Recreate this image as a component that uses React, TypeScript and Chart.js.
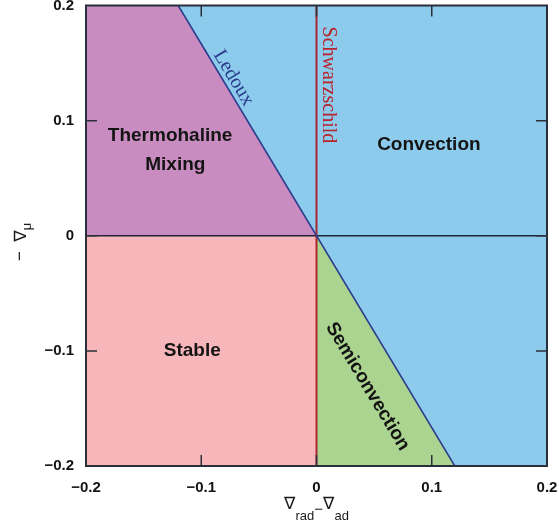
import React, { useEffect, useRef } from "react";
import { Chart, registerables } from "chart.js";

Chart.register(...registerables);

// Axis ticks
const xTickValues = [-0.2, -0.1, 0, 0.1, 0.2];
const xTickLabels = ["−0.2", "−0.1", "0", "0.1", "0.2"];
const yTickValues = [-0.2, -0.1, 0, 0.1, 0.2];
const yTickLabels = ["−0.2", "−0.1", "0", "0.1", "0.2"];

// Stability criteria (boundary lines)
const ledouxLine = [
  { x: -0.12, y: 0.2 },
  { x: 0.12, y: -0.2 },
];
const schwarzschildLine = [
  { x: 0, y: -0.2 },
  { x: 0, y: 0.2 },
];
const zeroLine = [
  { x: -0.2, y: 0 },
  { x: 0.2, y: 0 },
];

// Mixing regimes (closed polygons)
const convectionRegion = [
  { x: -0.12, y: 0.2 },
  { x: 0.2, y: 0.2 },
  { x: 0.2, y: -0.2 },
  { x: 0.12, y: -0.2 },
  { x: -0.12, y: 0.2 },
];
const thermohalineRegion = [
  { x: -0.2, y: 0.2 },
  { x: -0.12, y: 0.2 },
  { x: 0, y: 0 },
  { x: -0.2, y: 0 },
  { x: -0.2, y: 0.2 },
];
const stableRegion = [
  { x: -0.2, y: 0 },
  { x: 0, y: 0 },
  { x: 0, y: -0.2 },
  { x: -0.2, y: -0.2 },
  { x: -0.2, y: 0 },
];
const semiconvectionRegion = [
  { x: 0, y: 0 },
  { x: 0.12, y: -0.2 },
  { x: 0, y: -0.2 },
  { x: 0, y: 0 },
];

// Region names, placed in data coordinates
const regionLabels = [
  { text: "Thermohaline", x: -0.127, y: 0.087 },
  { text: "Mixing", x: -0.1225, y: 0.0615 },
  { text: "Convection", x: 0.0975, y: 0.0787 },
  { text: "Stable", x: -0.1078, y: -0.0996 },
];
const semiconvectionLabel = { text: "Semiconvection", x: 0.0443, y: -0.1309 };
const ledouxLabel = { text: "Ledoux", x: -0.0795, y: 0.1325 };
const schwarzschildLabel = { text: "Schwarzschild", x: 0.0104, y: 0.131 };

const COLORS = {
  convection: "rgb(141,203,236)",
  thermohaline: "rgb(200,140,192)",
  stable: "rgb(246,182,186)",
  semiconvection: "rgb(170,212,143)",
  ledoux: "#2b3a8c",
  schwarzschild: "#a8282e",
  zero: "#1e2438",
  frame: "#2a2f3c",
};

const SANS = "'Liberation Sans', Arial, 'DejaVu Sans', sans-serif";
const SERIF = "'Liberation Serif', 'Times New Roman', serif";
const NABLA = "'DejaVu Sans', sans-serif";

const decorPlugin = {
  id: "decor",
  afterDatasetsDraw(chart: any) {
    const { ctx, chartArea, scales } = chart;
    const xs = scales.x;
    const ys = scales.y;
    const px = (v: number) => xs.getPixelForValue(v);
    const py = (v: number) => ys.getPixelForValue(v);

    // Ledoux line angle in pixel space
    const lx1 = px(ledouxLine[0].x), ly1 = py(ledouxLine[0].y);
    const lx2 = px(ledouxLine[1].x), ly2 = py(ledouxLine[1].y);
    const theta = Math.atan2(ly2 - ly1, lx2 - lx1);

    ctx.save();
    ctx.fillStyle = "#141414";
    ctx.textAlign = "center";
    ctx.textBaseline = "middle";
    ctx.font = `bold 19px ${SANS}`;
    regionLabels.forEach((l) => ctx.fillText(l.text, px(l.x), py(l.y)));

    // Semiconvection, aligned with the Ledoux line
    ctx.save();
    ctx.translate(px(semiconvectionLabel.x), py(semiconvectionLabel.y));
    ctx.rotate(theta);
    ctx.fillText(semiconvectionLabel.text, 0, 0);
    ctx.restore();

    // Ledoux label, sitting on its line
    ctx.save();
    const nx = Math.sin(theta), ny = -Math.cos(theta);
    ctx.translate(px(ledouxLabel.x) + nx * 10, py(ledouxLabel.y) + ny * 10);
    ctx.rotate(theta);
    ctx.font = `20px ${SERIF}`;
    ctx.fillStyle = COLORS.ledoux;
    ctx.fillText(ledouxLabel.text, 0, 0);
    ctx.restore();

    // Schwarzschild label, vertical
    ctx.save();
    ctx.translate(px(schwarzschildLabel.x), py(schwarzschildLabel.y));
    ctx.rotate(Math.PI / 2);
    ctx.font = `20px ${SERIF}`;
    ctx.fillStyle = "#b8232b";
    ctx.fillText(schwarzschildLabel.text, 0, 0);
    ctx.restore();

    // Inward tick marks on all four sides
    const tl = 11;
    ctx.strokeStyle = COLORS.frame;
    ctx.lineWidth = 1.5;
    ctx.beginPath();
    xTickValues.slice(1, -1).forEach((v) => {
      const x = px(v);
      ctx.moveTo(x, chartArea.bottom);
      ctx.lineTo(x, chartArea.bottom - tl);
      ctx.moveTo(x, chartArea.top);
      ctx.lineTo(x, chartArea.top + tl);
    });
    yTickValues.slice(1, -1).forEach((v) => {
      const y = py(v);
      ctx.moveTo(chartArea.left, y);
      ctx.lineTo(chartArea.left + tl, y);
      ctx.moveTo(chartArea.right, y);
      ctx.lineTo(chartArea.right - tl, y);
    });
    ctx.stroke();

    // Frame
    ctx.lineWidth = 2;
    ctx.strokeRect(
      chartArea.left,
      chartArea.top,
      chartArea.right - chartArea.left,
      chartArea.bottom - chartArea.top
    );

    // X axis title: ∇rad − ∇ad
    ctx.fillStyle = "#1a1a1a";
    ctx.textAlign = "left";
    ctx.textBaseline = "alphabetic";
    const nabla = `17px ${NABLA}`;
    const big = `15px ${SANS}`;
    const small = `13px ${SANS}`;
    const parts = [
      { t: "∇", f: nabla, dy: 0 },
      { t: "rad", f: small, dy: 11 },
      { t: "−", f: big, dy: 5 },
      { t: "∇", f: nabla, dy: 0 },
      { t: "ad", f: small, dy: 11 },
    ];
    let total = 0;
    parts.forEach((p) => {
      ctx.font = p.f;
      total += ctx.measureText(p.t).width;
    });
    let cx = (chartArea.left + chartArea.right) / 2 - total / 2;
    const baseY = 509;
    parts.forEach((p) => {
      ctx.font = p.f;
      ctx.fillText(p.t, cx, baseY + p.dy);
      cx += ctx.measureText(p.t).width;
    });

    // Y axis title: −∇μ
    ctx.save();
    ctx.translate(26, 242);
    ctx.rotate(-Math.PI / 2);
    const yparts = [
      { t: "−  ", f: `17px ${SANS}`, dy: -1 },
      { t: "∇", f: nabla, dy: 0 },
      { t: "μ", f: small, dy: 5 },
    ];
    let ytotal = 0;
    yparts.forEach((p) => {
      ctx.font = p.f;
      ytotal += ctx.measureText(p.t).width;
    });
    let yx = -ytotal / 2;
    yparts.forEach((p) => {
      ctx.font = p.f;
      ctx.fillText(p.t, yx, p.dy);
      yx += ctx.measureText(p.t).width;
    });
    ctx.restore();

    ctx.restore();
  },
};

export default function App() {
  const canvasRef = useRef<HTMLCanvasElement | null>(null);

  useEffect(() => {
    const canvas = canvasRef.current;
    if (!canvas) return;

    const polygon = (data: any[], color: string, order: number) => ({
      data,
      showLine: true,
      fill: "shape",
      backgroundColor: color,
      borderColor: color,
      borderWidth: 0,
      pointRadius: 0,
      tension: 0,
      order,
    });
    const line = (data: any[], color: string, width: number, order: number) => ({
      data,
      showLine: true,
      fill: false,
      borderColor: color,
      borderWidth: width,
      pointRadius: 0,
      tension: 0,
      order,
    });

    const chart = new Chart(canvas, {
      type: "scatter",
      data: {
        datasets: [
          polygon(convectionRegion, COLORS.convection, 10),
          polygon(thermohalineRegion, COLORS.thermohaline, 9),
          polygon(stableRegion, COLORS.stable, 8),
          polygon(semiconvectionRegion, COLORS.semiconvection, 7),
          line(zeroLine, COLORS.zero, 1.5, 3),
          line(schwarzschildLine, COLORS.schwarzschild, 2, 2),
          line(ledouxLine, COLORS.ledoux, 1.5, 1),
        ] as any,
      },
      options: {
        animation: false,
        responsive: false,
        maintainAspectRatio: false,
        layout: { padding: { left: 0, right: 12, top: 5.5, bottom: 0 } },
        plugins: {
          legend: { display: false },
          tooltip: { enabled: false },
        },
        scales: {
          x: {
            type: "linear",
            min: -0.2,
            max: 0.2,
            grid: { display: false, drawTicks: false },
            border: { display: false },
            afterBuildTicks: (scale: any) => {
              scale.ticks = xTickValues.map((v) => ({ value: v }));
            },
            afterFit: (scale: any) => {
              scale.height = 61;
              scale.paddingLeft = 0;
              scale.paddingRight = 0;
            },
            ticks: {
              padding: 13,
              color: "#141414",
              font: { family: SANS, size: 15, weight: "bold" },
              maxRotation: 0,
              autoSkip: false,
              callback: (_v: any, i: number) => xTickLabels[i],
            },
          },
          y: {
            type: "linear",
            min: -0.2,
            max: 0.2,
            grid: { display: false, drawTicks: false },
            border: { display: false },
            afterBuildTicks: (scale: any) => {
              scale.ticks = yTickValues.map((v) => ({ value: v }));
            },
            afterFit: (scale: any) => {
              scale.width = 86;
              scale.paddingTop = 0;
              scale.paddingBottom = 0;
            },
            ticks: {
              padding: 12,
              color: "#141414",
              font: { family: SANS, size: 15, weight: "bold" },
              autoSkip: false,
              callback: (_v: any, i: number) => yTickLabels[i],
            },
          },
        },
      } as any,
      plugins: [decorPlugin],
    });

    return () => chart.destroy();
  }, []);

  return (
    <div style={{ position: "absolute", left: 0, top: 0, width: 559, height: 527, background: "#fff" }}>
      <canvas ref={canvasRef} width={559} height={527} style={{ display: "block" }} />
    </div>
  );
}
